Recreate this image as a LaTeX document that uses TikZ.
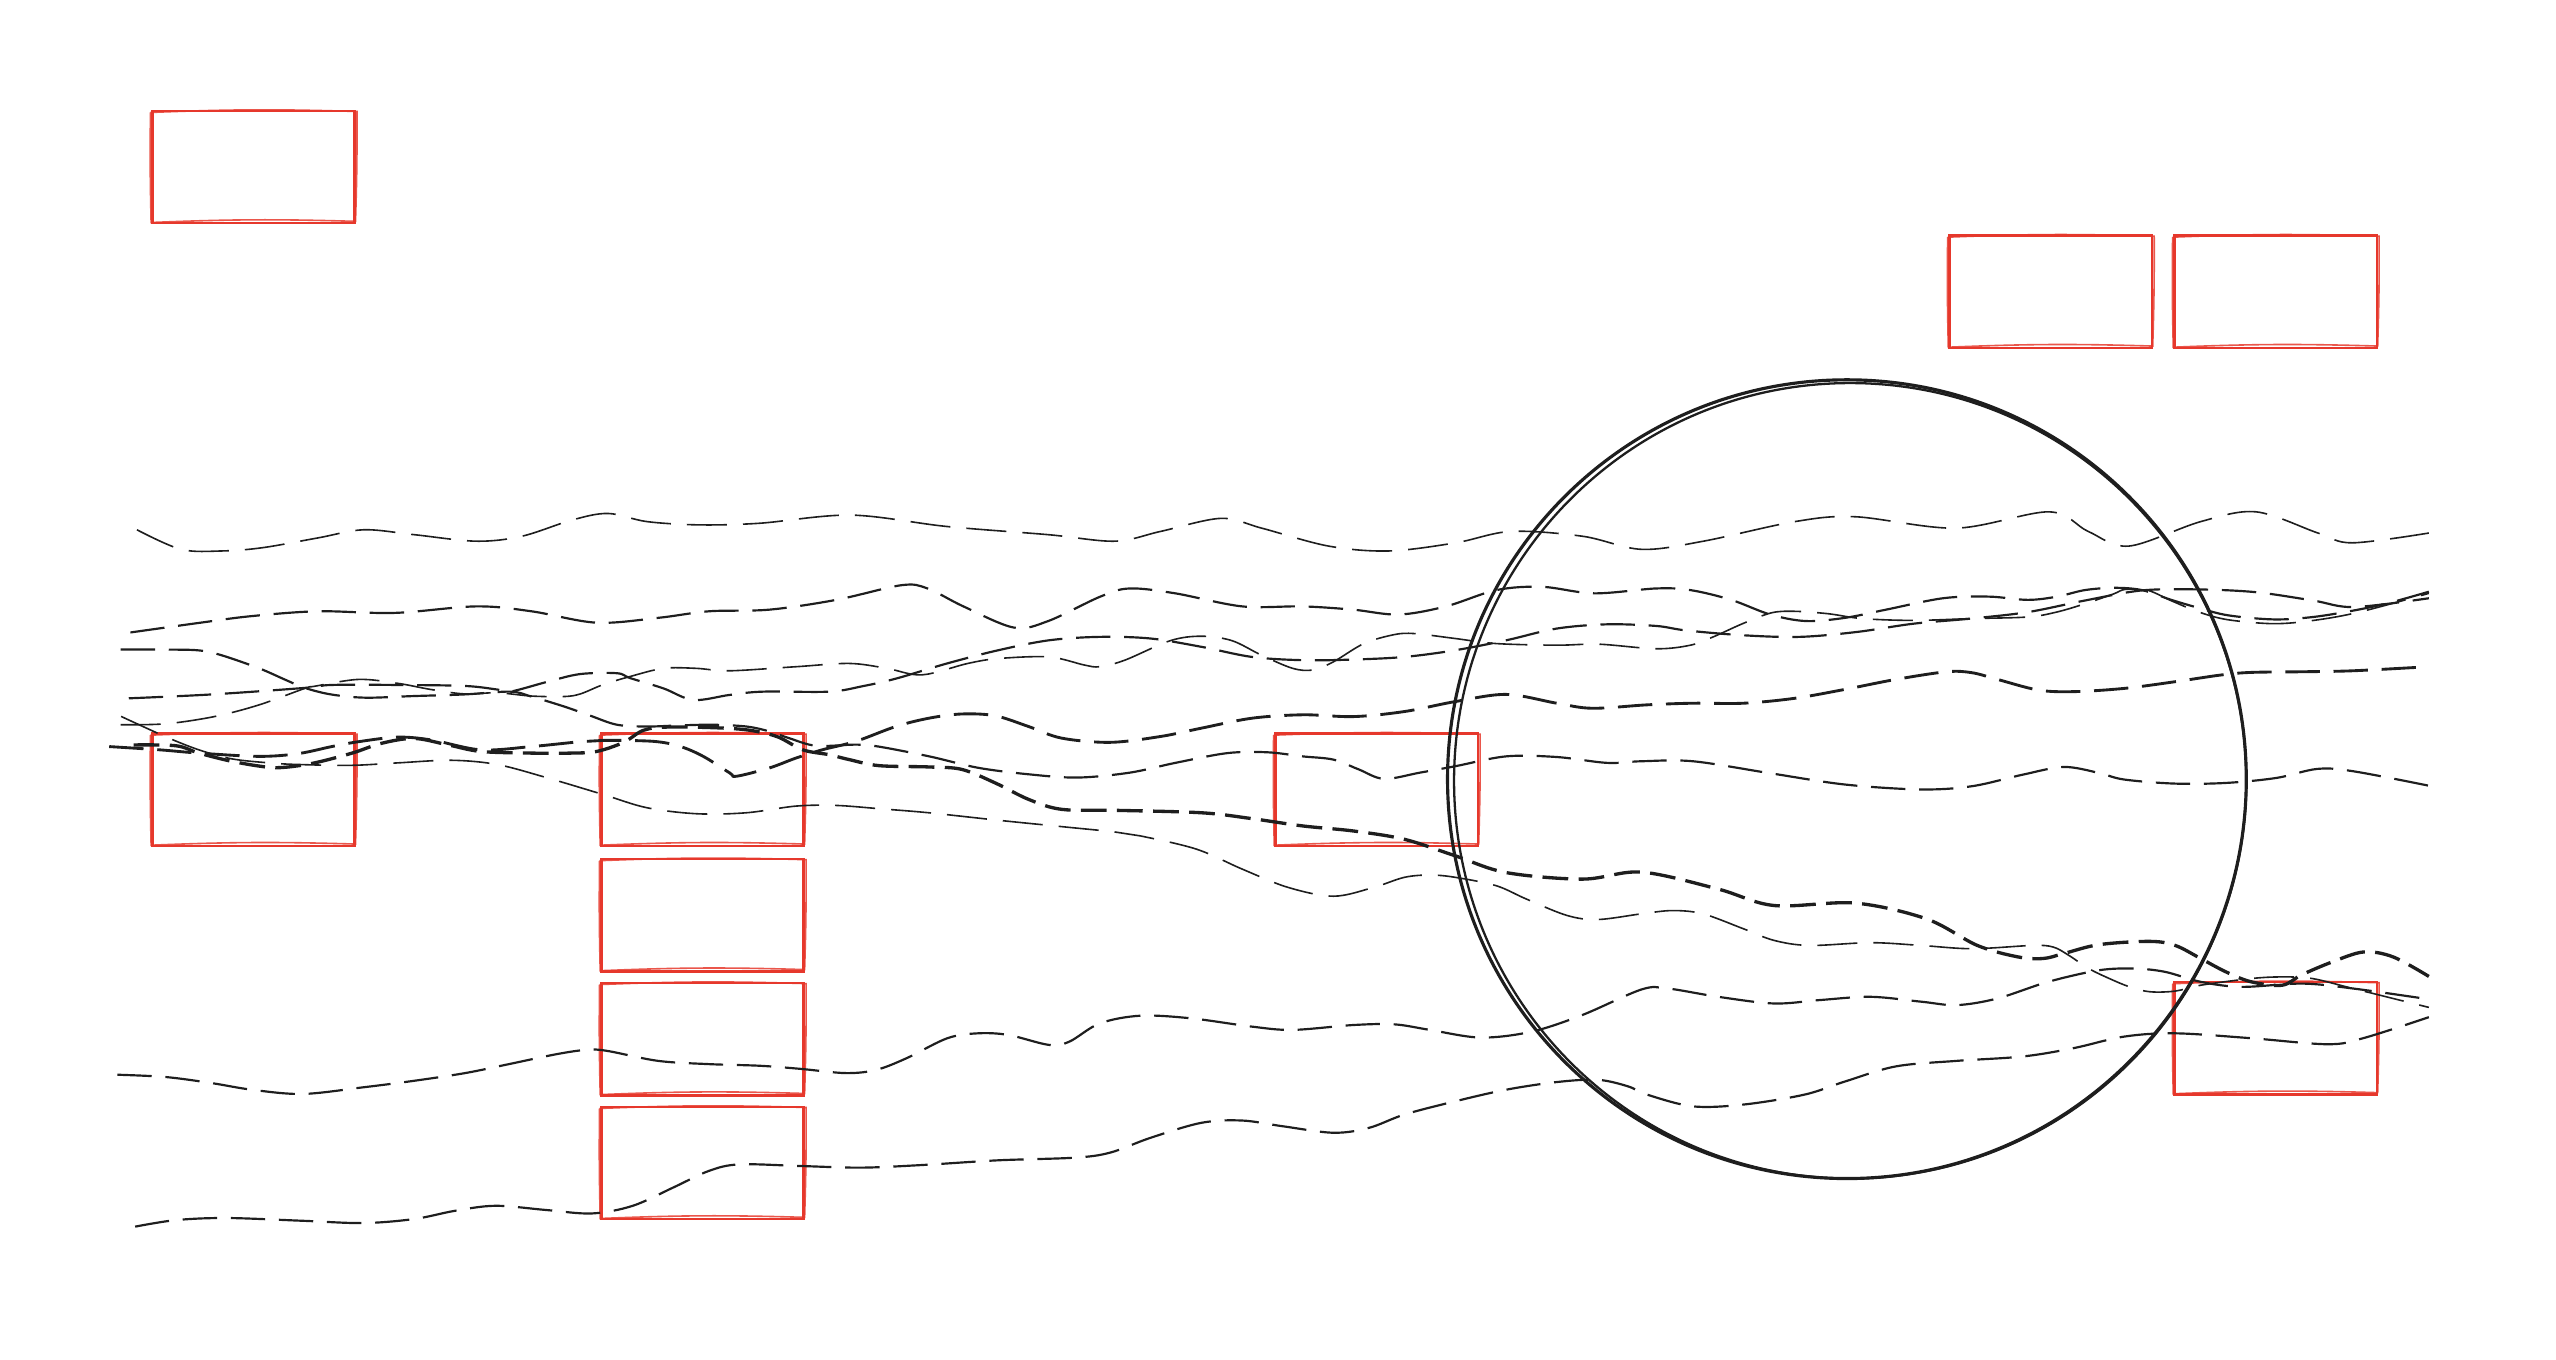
\documentclass[tikz,border=0pt]{standalone}
\usepackage{tikz}
\definecolor{sketchred}{RGB}{230,56,44}
\definecolor{ink}{RGB}{30,30,30}
\newcommand*\boxw{12.4mm}
\newcommand*\boxh{6.9mm}
\tikzset{
    redbox/.style    = {draw=sketchred, line width=0.4pt, rectangle,
                        minimum width=\boxw, minimum height=\boxh,
                        inner sep=0pt, outer sep=0pt},
    redtrace/.style  = {draw=sketchred, line width=0.28pt, opacity=0.85},
    ring/.style      = {draw=ink, line width=0.55pt, circle,
                        minimum size=49mm, inner sep=0pt, outer sep=0pt},
    ringtrace/.style = {draw=ink, line width=0.4pt},
    wave/.style      = {draw=ink, line width=0.38pt, dash pattern=on 6pt off 2.4pt},
    thinwave/.style  = {wave, line width=0.28pt, dash pattern=on 7pt off 2.8pt},
    thickwave/.style = {wave, line width=0.58pt, dash pattern=on 4.5pt off 1.8pt},
    wavy/.style      = {smooth, tension=0.55},
  }
% second pencil stroke round a box
\newcommand*\roughbox[1]{%
  \draw[redtrace] ([shift={(-1.2,1.0)}]#1.north west) to[bend left=2]
    ([shift={(1.5,0.4)}]#1.north east) to[bend left=1]
    ([shift={(0.6,-1.2)}]#1.south east) to[bend right=2]
    ([shift={(-0.8,-0.5)}]#1.south west) to[bend left=1]
    ([shift={(-1.2,1.0)}]#1.north west);}

\begin{document}
\begin{tikzpicture}[x=0.1mm, y=-0.1mm]
    \useasboundingbox (0,0) rectangle (1568,834);

    % red boxes
    \node[redbox] (box1) at (155.5,102.5) {};
    \node[redbox] (box2) at (1258,179) {};
    \node[redbox] (box3) at (1396,179) {};
    \node[redbox] (box4) at (155.5,484.5) {};
    \foreach \n/\y in {5/484.5,6/561.5,7/637.5,8/713.5} {
        \node[redbox] (box\n) at (431,\y) {};
    }
    \node[redbox] (box9) at (844.5,484.5) {};
    \node[redbox] (box10) at (1396,637) {};
    \foreach \b in {box1,box2,box3,box4,box5,box6,box7,box8,box9,box10} {
        \roughbox{\b}
    }

    % big circle, drawn twice
    \node[ring] (disc) at (1133,478) {};
    \draw[ringtrace] ([shift={(2,1)}]disc.center) ellipse [x radius=24.3mm, y radius=24.4mm];

    % wave A
    \draw[thinwave] plot[wavy] coordinates {(84,325) (111,337) (136,338) (161,336) (195,330)
        (223,325) (254,328) (292,332) (320,329) (351,319) (373,315) (397,320) (429,322)
        (466,321) (522,316) (581,323) (643,328) (684,332) (712,326) (749,318) (774,324)
        (815,335) (852,338) (893,333) (927,326) (971,329) (1007,337) (1045,332) (1101,320)
        (1138,317) (1200,324) (1257,314) (1281,326) (1306,335) (1350,320) (1384,314)
        (1422,327) (1443,333) (1490,327)};
    % wave B
    \draw[wave] plot[wavy] coordinates {(80,388) (123,382) (154,378) (195,375) (242,376)
        (292,372) (326,375) (366,382) (404,379) (435,375) (472,374) (513,368) (553,359)
        (569,361) (591,372) (622,385) (643,381) (675,366) (693,361) (721,364) (762,372)
        (799,372) (830,374) (858,377) (887,372) (918,362) (946,360) (978,364) (1016,361)
        (1037,362) (1062,368) (1086,377) (1108,381) (1132,379) (1157,374) (1192,367)
        (1220,366) (1244,368) (1262,366) (1279,362) (1297,360.6) (1314,362) (1332,368)
        (1349,373) (1367,377.5) (1395,380) (1419,378.5) (1444,374.5) (1465,370) (1490,363)};
    % wave C
    \draw[wave] plot[wavy] coordinates {(74,398.5) (102,398.5) (122,399) (136,402) (159,410)
        (175,417) (187,422) (203,426) (224,428) (254,427) (285,426) (313,424.3) (326,427.3)
        (346,433.4) (362,439) (378.5,444.6) (397,445.7) (417,445) (437.5,444.6) (458,445.7)
        (472,448.7) (484,452.8) (500.6,457.5) (525,456.8) (539,458) (570,464) (600,471)
        (631,475) (661,477) (693,474) (721,468) (753,462) (777.5,461.5) (799,464) (818,466)
        (833.5,472) (849,477.8) (871,474) (893,470) (924,464) (955,464.4) (986,468)
        (1007,467) (1038.5,467) (1085,474.2) (1132,481.3) (1178.6,484.3) (1209.8,482.3)
        (1241,475.2) (1266,470.5) (1287.7,474.2) (1303,478.2) (1334,480.7) (1365.6,480.3)
        (1396.7,477.2) (1421.6,471.7) (1443.4,473.1) (1490,482)};
    % wave D
    \draw[wave] plot[wavy] coordinates {(79,428.4) (130,426) (187,422) (203.5,420.2)
        (244,420.2) (285,420.8) (305,423) (313,424.3) (336,418.2) (356,413.5) (378.5,413)
        (386.6,416) (407,422.3) (425.3,429.4) (447.7,426.3) (468,424.3) (508.7,424.3)
        (529,421) (550,416.2) (581,407) (612.4,398.9) (643.5,392.8) (674.7,390.7)
        (705.8,391.7) (737,396.8) (768,403) (799.3,405) (830.4,404.6) (861.6,403)
        (892.7,398.9) (924,392.8) (955,385.6) (986,383) (1016,384) (1034,386.7) (1069,389.7)
        (1104,390.7) (1139,387.7) (1174,382.6) (1209,379.5) (1244,375.5) (1279,368.4)
        (1314,362.2) (1349,361.6) (1384,363.3) (1419,368.4) (1444,372.4) (1490,367)};
    % wave E
    \draw[thinwave] plot[wavy] coordinates {(74.3,439.5) (101.7,452) (122,460) (142,465.5)
        (165,468) (183,469) (215.7,469.5) (244,468) (276.8,466.4) (305,469) (335.8,477.2)
        (370,487.4) (396.8,495.5) (427.4,499.2) (457.9,498.6) (488.4,494.5) (512.8,494.1)
        (539.3,496.1) (569.8,498.6) (610.5,503) (651.2,507.1) (684,510.4) (699.6,512.8)
        (733.9,520.9) (761.9,533.1) (789.9,544.3) (818,549.8) (842.9,544.3) (861.6,538.2)
        (877.2,536.8) (892.7,538.2) (917.7,543.3) (936.3,551.5) (961.3,561.6) (980,564.1)
        (1007,560.6) (1026,558.6) (1044.7,560.6) (1069.6,569.8) (1088.3,576.9) (1110,580)
        (1147.5,578.3) (1178.6,580) (1209.8,582) (1247,580) (1259.6,581) (1269,586)
        (1281.4,594.2) (1294,600.3) (1306.4,605.4) (1318.8,608.4) (1334.4,608) (1350,604.4)
        (1381,600.3) (1400,599.3) (1418.5,600.3) (1443.4,606.4) (1490,618)};
    % wave F
    \draw[thinwave] plot[wavy] coordinates {(74,444.6) (102,444) (132,439.5) (159,432.4)
        (187,422.3) (193,421) (220,416.8) (244,419.2) (264.5,423) (285,425.7) (305,425)
        (326,427) (346,427.3) (356,425.7) (370,420) (386.6,415) (407,410) (427,410)
        (447.7,411.5) (488.4,409) (521,407) (544,410) (565.6,414) (593.7,407) (612.4,404)
        (643.5,403) (665.3,408) (674.7,409) (690,405) (718,393) (737,390.3) (755.7,393)
        (774,402) (793,410) (805.5,411) (818,406) (836.7,394.8) (855.4,389.3) (868,388.7)
        (892.7,391.7) (917.7,394.8) (955,395.8) (981,395.2) (1016,398) (1037,395.8)
        (1051,390.7) (1069,382.6) (1086.5,376) (1100.5,375) (1121.5,376.5) (1142.5,379.5)
        (1174,380.6) (1209,379.5) (1244,378.5) (1261.6,375.5) (1279,370.4) (1296.7,364.3)
        (1303.7,361.6) (1317.7,362.2) (1331.7,368.4) (1349,375.5) (1366.8,380.2)
        (1394.8,382.6) (1419.3,380.6) (1447.3,375.5) (1490,364)};
    % wave H
    \draw[thickwave] plot[wavy] coordinates {(82,457) (108,457.5) (122,462) (142,467)
        (163,470.5) (175,470.7) (193,468) (216,462) (234,456) (254,453) (275,457) (295,461)
        (326,462) (350,462) (366,461) (382.6,455.4) (394.8,448) (410,446) (440,446.5)
        (460,448) (477,452) (492.5,460) (508.7,463) (521,466) (539.3,469.7) (569.8,470.5)
        (590,472) (610.5,480.3) (631,490.4) (651.2,496.5) (684,497.1) (737,498.6)
        (768,502.2) (799.3,506.7) (830.4,509.8) (861.6,514.9) (892.7,525) (924,535.3)
        (971,539.3) (1007,535) (1054,545.4) (1088.3,555.5) (1138,554) (1181.8,563.7)
        (1213,580) (1237.8,587) (1253.4,588) (1265.9,585) (1287.7,579.5) (1318.8,577.5)
        (1334.4,580) (1350,588) (1365.5,596.2) (1381,602.3) (1400,604.4) (1412,598)
        (1431,590) (1450,584) (1468,587) (1490,599)};
    % wave K
    \draw[wave, line width=0.5pt] plot[wavy] coordinates {(67,458) (98,460) (122,462)
        (159,464) (183,462.3) (203.5,458) (220,455) (244,452.2) (265,454) (295,460)
        (326,458) (356,455) (370.4,454.2) (400.9,454.8) (417.2,457.9) (431.4,464)
        (447.7,474.2) (451.8,476.2) (472,471.1) (488.4,465) (504.7,459.9) (525,454.8)
        (549.5,445.7) (569.8,440.6) (590,438) (610.5,439.1) (631,445.7) (651.2,452.8)
        (681,455.4) (712,451.8) (737,446.7) (768,440.6) (799.3,438.5) (830.4,439.6)
        (861.6,436.5) (892.7,430.4) (924,426) (955,431.4) (976.8,434.5) (1010.4,432.4)
        (1038.5,431.4) (1069.6,431.4) (1100.8,428.4) (1131.9,422.9) (1163,416.8)
        (1194.2,412.1) (1209.8,412.7) (1225.4,416.8) (1250.3,423.3) (1272,424.3)
        (1303.2,422.3) (1334.4,418.2) (1362.4,414.1) (1381,412.5) (1412.3,412.1)
        (1443.4,411.5) (1490,409)};
    % wave I
    \draw[wave] plot[wavy] coordinates {(72,659.3) (101.5,660.7) (129.6,664.4) (154.5,668.5)
        (185.7,671.1) (223,667) (254.2,663) (285.3,658.3) (310.3,653.2) (341.4,646.7)
        (360.1,644) (372.6,644.7) (403.7,650.8) (434.9,652.8) (466,653.8) (491,655.7)
        (519,658.3) (537.6,656.3) (556.3,649.1) (581.2,636.9) (600,633.9) (618.6,634.9)
        (643.5,641) (656,639) (674.7,627.8) (699.6,623.1) (730.7,624.7) (768,629.8)
        (793,631.8) (830.4,628.8) (855.4,628.4) (877.2,631.8) (908.3,636.5) (939.5,632.9)
        (970.6,622.7) (1007,607) (1023,606.4) (1054,611.5) (1088.3,615.6) (1116.3,613.5)
        (1147.5,611.5) (1178.6,614.5) (1200.4,616.6) (1225.4,612.5) (1256.5,602.3)
        (1287.7,595.2) (1309.5,594.2) (1328.2,596.2) (1350,602.3) (1375,605.4)
        (1412.3,603.4) (1443.4,606.4) (1490,613)};
    % wave J
    \draw[wave] plot[wavy] coordinates {(82.9,752.5) (107.8,748.5) (139,747.2) (185.7,748.9)
        (223,750.3) (254.2,747.8) (279,742.8) (304,739.7) (335.2,742.3) (363.2,744.4)
        (388.2,739.7) (413,728.5) (434.9,718.3) (453.6,714.3) (491,715.3) (528.3,716.3)
        (565.6,714.7) (612.4,711.8) (659,710.2) (681,707.1) (705.8,698) (737,688.8)
        (762,687.4) (786.8,690.9) (818,694.9) (839.8,691.9) (861.6,683.7) (892.7,675.6)
        (923.9,668.5) (955,663.8) (980,662.4) (998.6,666.4) (1010.4,671.5) (1038.5,678.7)
        (1069.6,677.6) (1107,671.5) (1132,663.4) (1163,654.2) (1200.4,650.8) (1241,648.1)
        (1272,643) (1303.2,635.9) (1334.4,633.9) (1381,636.9) (1427.9,640.6)
        (1449.7,636.9) (1490,624)};
\end{tikzpicture}
\end{document}
